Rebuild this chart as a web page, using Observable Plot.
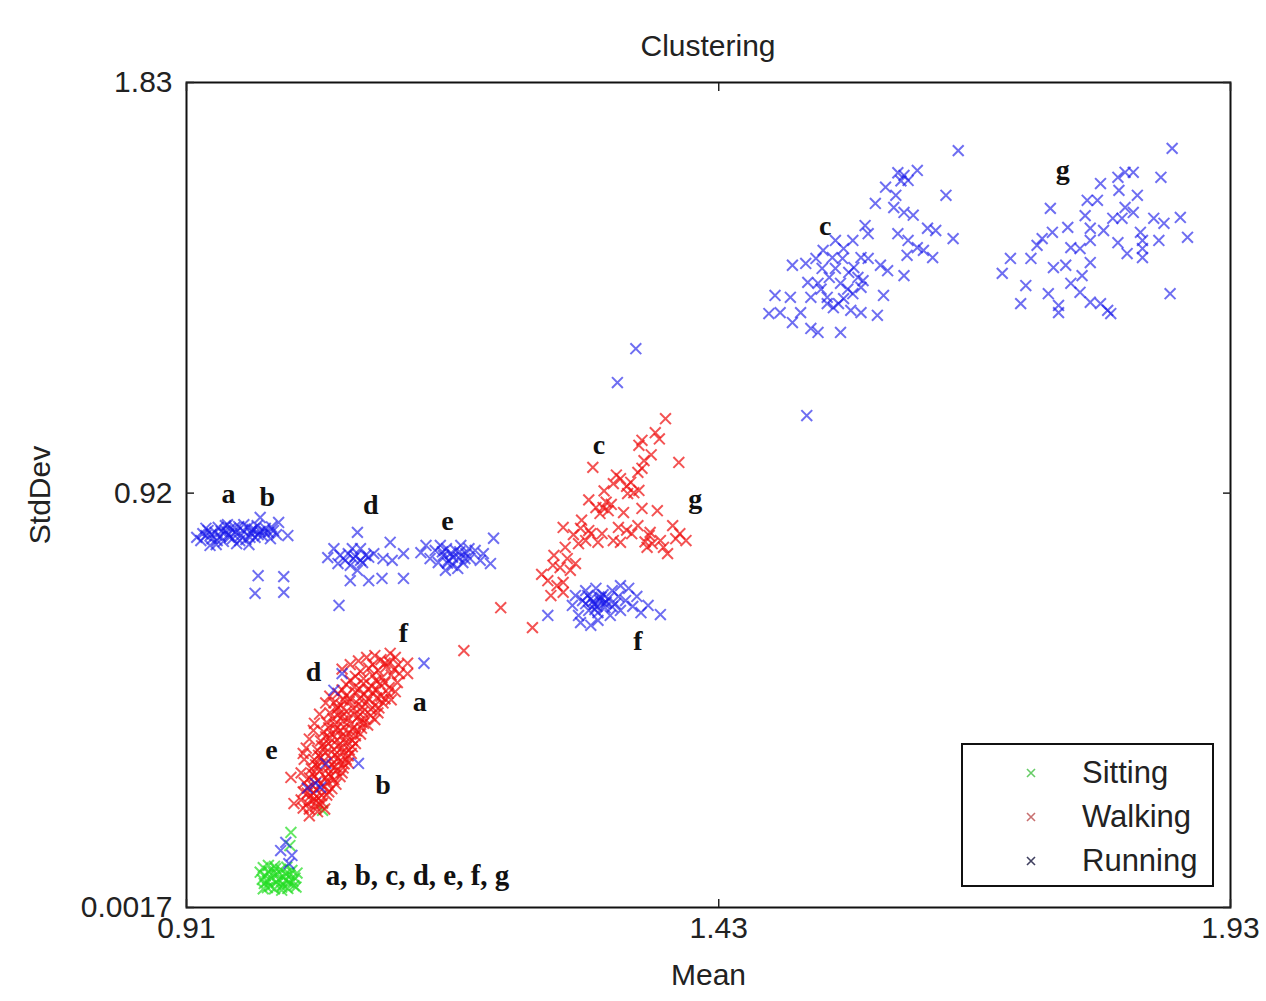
<!DOCTYPE html>
<html>
<head>
<meta charset="utf-8">
<script src="https://cdn.jsdelivr.net/npm/d3@7"></script>
<script src="https://cdn.jsdelivr.net/npm/@observablehq/plot@0.6"></script>
<style>
  html, body { margin: 0; padding: 0; background: #fff; }
  #wrap { position: relative; width: 1266px; height: 1001px; font-family: "Liberation Sans", Arial, sans-serif; }
  #title { position: absolute; left: 186px; width: 1044px; top: 29px; text-align: center; font-size: 30px; color: #222; }
  #legend { position: absolute; left: 961px; top: 743px; width: 249px; height: 140px; border: 2px solid #111; background: #fff; }
  .item { position: absolute; left: 0; height: 40px; display: flex; align-items: center; font-size: 31px; color: #222; }
  .item svg { margin-left: 61px; margin-right: 44px; }
</style>
</head>
<body>
<div id="wrap">
  <div id="chart"></div>
  <div id="title"></div>
  <div id="legend"></div>
</div>
<script>
const title = "Clustering";
const xLabel = "Mean";
const yLabel = "StdDev";
const xTicks = [0.91, 1.43, 1.93];
const xTickLabels = ["0.91", "1.43", "1.93"];
const yTicks = [0.0017, 0.92, 1.83];
const yTickLabels = ["0.0017", "0.92", "1.83"];
const classes = ["Sitting", "Walking", "Running"];
const classColors = ["#22dd22", "#ee1111", "#1515e8"];
const classOpacity = [0.7, 0.72, 0.62];
const legendColors = ["#66cc66", "#c87070", "#404060"];

// Sitting (green) points [mean, stddev]
const sitting = [
  [0.985,0.090],[0.990,0.082],[0.996,0.093],[1.002,0.086],[1.008,0.091],[1.013,0.084],
  [0.987,0.072],[0.993,0.066],[0.999,0.075],[1.005,0.069],[1.011,0.074],[1.016,0.067],
  [0.986,0.055],[0.992,0.049],[0.998,0.058],[1.004,0.052],[1.010,0.057],[1.015,0.050],
  [0.989,0.046],[0.996,0.043],[1.003,0.047],[1.009,0.044],[1.014,0.060],[0.984,0.064],
  [0.995,0.079],[1.007,0.062],[0.982,0.080],[0.989,0.060],[1.000,0.064],[1.018,0.078],
  [0.997,0.088],[1.007,0.077],[0.990,0.095],[1.003,0.040],[0.985,0.043],[1.017,0.047],
  [1.012,0.168],[1.011,0.139],[1.043,0.217]
];

// Walking (red) points
const walking = [
  [1.100,0.551],[1.108,0.546],[1.114,0.556],
  [1.088,0.532],[1.097,0.527],[1.105,0.535],[1.113,0.529],
  [1.075,0.514],[1.083,0.509],[1.092,0.516],[1.101,0.511],[1.110,0.517],
  [1.066,0.496],[1.074,0.490],[1.083,0.498],[1.091,0.492],[1.099,0.497],[1.108,0.489],
  [1.058,0.476],[1.066,0.471],[1.075,0.479],[1.083,0.473],[1.092,0.478],[1.100,0.470],[1.107,0.476],
  [1.054,0.455],[1.061,0.450],[1.069,0.458],[1.078,0.452],[1.086,0.457],[1.094,0.449],[1.102,0.455],
  [1.050,0.433],[1.058,0.428],[1.066,0.436],[1.074,0.430],[1.082,0.435],[1.090,0.427],[1.097,0.433],
  [1.047,0.412],[1.055,0.407],[1.063,0.415],[1.071,0.409],[1.079,0.414],[1.087,0.406],
  [1.044,0.391],[1.052,0.386],[1.060,0.394],[1.068,0.388],[1.076,0.393],
  [1.041,0.371],[1.049,0.365],[1.057,0.373],[1.065,0.367],[1.072,0.372],
  [1.038,0.350],[1.046,0.345],[1.054,0.352],[1.062,0.346],[1.069,0.351],
  [1.035,0.329],[1.043,0.324],[1.051,0.331],[1.059,0.325],[1.066,0.330],
  [1.032,0.309],[1.040,0.303],[1.048,0.310],[1.056,0.305],[1.063,0.311],
  [1.030,0.289],[1.038,0.283],[1.046,0.290],[1.054,0.285],[1.060,0.292],
  [1.029,0.268],[1.037,0.263],[1.045,0.270],[1.052,0.265],
  [1.031,0.249],[1.039,0.244],[1.047,0.251],
  [1.028,0.232],[1.036,0.226],[1.043,0.233],[1.038,0.214],[1.045,0.220],
  [1.062,0.530],[1.070,0.540],[1.078,0.548],[1.086,0.556],[1.094,0.560],
  [1.117,0.540],[1.118,0.520],[1.116,0.500],[1.114,0.480],[1.050,0.470],[1.046,0.455],[1.110,0.462],
  [1.062,0.484],[1.079,0.486],[1.096,0.484],[1.070,0.464],[1.088,0.465],[1.104,0.464],
  [1.057,0.442],[1.073,0.443],[1.090,0.441],[1.053,0.420],[1.068,0.421],[1.084,0.420],
  [1.049,0.400],[1.064,0.401],[1.081,0.399],[1.046,0.380],[1.061,0.381],[1.075,0.382],
  [1.042,0.360],[1.058,0.360],[1.072,0.358],[1.039,0.339],[1.055,0.340],[1.068,0.338],
  [1.036,0.318],[1.052,0.318],[1.064,0.320],[1.033,0.298],[1.049,0.298],[1.062,0.300],
  [1.025,0.278],[1.041,0.276],[1.056,0.275],[1.024,0.258],[1.034,0.255],[1.049,0.258],
  [1.022,0.240],[1.033,0.238],[1.024,0.222],[1.030,0.205],
  [1.025,0.330],[1.022,0.300],[1.027,0.355],[1.030,0.375],[1.035,0.410],[1.040,0.430],
  [1.104,0.543],[1.092,0.540],[1.080,0.525],[1.095,0.505],[1.070,0.505],[1.087,0.485],[1.104,0.500],
  [1.079,0.465],[1.063,0.462],[1.096,0.466],[1.058,0.445],[1.082,0.446],[1.098,0.444],[1.062,0.425],
  [1.078,0.425],[1.094,0.418],[1.056,0.397],[1.072,0.397],[1.083,0.410],[1.050,0.377],[1.066,0.378],
  [1.080,0.386],[1.045,0.357],[1.062,0.356],[1.075,0.365],[1.041,0.335],[1.058,0.333],[1.071,0.343],
  [1.038,0.315],[1.055,0.313],[1.068,0.322],[1.035,0.293],[1.051,0.292],[1.033,0.272],[1.048,0.280],
  [1.028,0.255],[1.042,0.250],[1.035,0.243],[1.040,0.230],[1.030,0.220],
  [1.109,0.565],[1.126,0.543],[1.126,0.520],[1.181,0.571],[1.012,0.290],[1.015,0.232],
  [1.024,0.343],[1.034,0.394],[1.217,0.666],[1.248,0.622],
  [1.378,1.085],[1.368,1.054],[1.355,1.037],[1.352,1.026],[1.391,0.988],[1.357,0.992],
  [1.307,0.977],[1.355,0.975],[1.351,0.966],[1.334,0.952],[1.327,0.941],[1.344,0.944],
  [1.347,0.921],[1.352,0.926],[1.341,0.919],[1.310,0.888],[1.317,0.888],[1.322,0.881],
  [1.314,0.875],[1.337,0.877],[1.355,0.886],[1.370,0.881],[1.278,0.844],[1.295,0.842],
  [1.303,0.837],[1.305,0.830],[1.316,0.830],[1.332,0.844],[1.351,0.848],[1.363,0.833],
  [1.385,0.848],[1.293,0.808],[1.312,0.811],[1.327,0.815],[1.334,0.811],[1.365,0.808],
  [1.373,0.815],[1.388,0.819],[1.398,0.815],[1.269,0.782],[1.282,0.775],[1.290,0.764],
  [1.380,0.786],[1.360,0.800],[1.275,0.755],[1.285,0.749],[1.263,0.726],[1.272,0.715],
  [1.278,0.722],[1.266,0.693],[1.278,0.700],[1.325,0.895],[1.340,0.838],[1.358,0.812],[1.320,0.900],
  [1.330,0.960],[1.340,0.935],[1.318,0.925],[1.303,0.905],[1.296,0.860],[1.288,0.828],
  [1.300,0.815],[1.345,0.830],[1.362,0.826],[1.376,0.800],[1.392,0.830],[1.280,0.800],
  [1.268,0.760],[1.257,0.740],[1.364,1.005],[1.372,1.040]
];

// Running (blue) points
const running = [
  // a, b
  [0.924,0.815],[0.929,0.826],[0.931,0.837],[0.935,0.819],[0.938,0.833],[0.941,0.844],
  [0.943,0.824],[0.946,0.813],[0.948,0.837],[0.951,0.828],[0.953,0.842],[0.955,0.819],
  [0.958,0.833],[0.961,0.846],[0.963,0.826],[0.965,0.837],[0.968,0.817],[0.970,0.844],
  [0.973,0.831],[0.974,0.839],[0.977,0.822],[0.979,0.848],[0.982,0.835],[0.984,0.826],
  [0.987,0.842],[0.990,0.833],[0.992,0.819],[0.995,0.837],[0.998,0.828],[1.000,0.855],
  [1.009,0.826],[0.982,0.866],[0.939,0.806],[0.959,0.808],[0.971,0.806],[0.933,0.804],
  [0.929,0.842],[0.950,0.850],
  [0.926,0.830],[0.934,0.828],[0.944,0.835],[0.952,0.822],[0.957,0.844],[0.962,0.815],
  [0.966,0.850],[0.972,0.822],[0.976,0.840],[0.980,0.828],[0.986,0.835],[0.993,0.845],
  [0.940,0.815],[0.948,0.848],[0.920,0.822],
  [0.980,0.737],[1.005,0.735],[0.977,0.698],[1.005,0.700],
  // d
  [1.077,0.833],[1.109,0.811],[1.054,0.797],[1.080,0.797],[1.122,0.786],[1.048,0.777],
  [1.073,0.775],[1.093,0.786],[1.102,0.775],[1.111,0.771],[1.058,0.764],[1.082,0.766],
  [1.070,0.726],[1.088,0.726],[1.101,0.731],[1.122,0.731],[1.059,0.671],[1.068,0.786],
  [1.075,0.780],[1.080,0.771],[1.085,0.782],[1.070,0.760],[1.077,0.749],[1.065,0.771],
  [1.060,0.782],[1.088,0.778],[1.072,0.797],
  // e
  [1.139,0.788],[1.144,0.804],[1.148,0.775],[1.153,0.793],[1.156,0.766],[1.158,0.804],
  [1.161,0.782],[1.164,0.797],[1.166,0.771],[1.168,0.786],[1.170,0.760],[1.173,0.793],
  [1.176,0.777],[1.178,0.804],[1.180,0.766],[1.183,0.786],[1.186,0.797],[1.187,0.775],
  [1.192,0.793],[1.197,0.771],[1.200,0.786],[1.207,0.764],[1.210,0.820],[1.163,0.749],[1.175,0.753],
  [1.160,0.790],[1.170,0.778],[1.177,0.790],[1.165,0.765],[1.182,0.775],
  // f
  [1.287,0.671],[1.290,0.693],[1.293,0.649],[1.297,0.682],[1.300,0.704],[1.303,0.660],
  [1.305,0.686],[1.308,0.673],[1.310,0.709],[1.312,0.655],[1.314,0.682],[1.317,0.695],
  [1.319,0.666],[1.322,0.686],[1.324,0.649],[1.326,0.704],[1.329,0.675],[1.332,0.691],
  [1.334,0.660],[1.339,0.682],[1.342,0.709],[1.346,0.669],[1.350,0.691],[1.354,0.655],
  [1.361,0.671],[1.373,0.651],[1.295,0.633],[1.312,0.638],[1.305,0.627],[1.320,0.678],
  [1.311,0.669],[1.315,0.689],[1.334,0.715],[1.263,0.649],
  [1.300,0.675],[1.307,0.680],[1.313,0.690],[1.318,0.676],[1.309,0.662],[1.326,0.668],[1.302,0.693],
  [1.349,1.240],[1.331,1.165],[1.516,1.092],
  // c
  [1.664,1.679],[1.605,1.630],[1.611,1.624],[1.615,1.613],[1.624,1.635],[1.593,1.598],
  [1.603,1.580],[1.652,1.580],[1.583,1.562],[1.601,1.553],[1.611,1.542],[1.620,1.536],
  [1.573,1.513],[1.576,1.495],[1.605,1.495],[1.634,1.507],[1.642,1.502],[1.659,1.484],
  [1.615,1.480],[1.624,1.464],[1.630,1.458],[1.639,1.442],[1.614,1.447],[1.544,1.480],
  [1.561,1.480],[1.532,1.458],[1.552,1.462],[1.525,1.440],[1.541,1.442],[1.551,1.440],
  [1.569,1.442],[1.576,1.440],[1.588,1.425],[1.502,1.425],[1.515,1.429],[1.531,1.418],
  [1.544,1.418],[1.557,1.409],[1.566,1.398],[1.571,1.391],[1.595,1.413],[1.611,1.402],
  [1.517,1.387],[1.527,1.385],[1.549,1.385],[1.569,1.376],[1.561,1.362],[1.485,1.358],
  [1.500,1.354],[1.520,1.354],[1.536,1.354],[1.552,1.351],[1.591,1.358],[1.479,1.318],
  [1.490,1.320],[1.510,1.320],[1.536,1.340],[1.542,1.331],[1.559,1.325],[1.569,1.320],
  [1.585,1.314],[1.502,1.298],[1.520,1.285],[1.527,1.276],[1.549,1.276],
  [1.538,1.398],[1.556,1.372],[1.547,1.340],[1.530,1.372],[1.562,1.420],[1.608,1.612],
  // g
  [1.873,1.684],[1.820,1.620],[1.827,1.631],[1.835,1.631],[1.862,1.620],[1.803,1.606],
  [1.821,1.591],[1.839,1.580],[1.790,1.569],[1.800,1.569],[1.754,1.551],[1.827,1.553],
  [1.835,1.542],[1.788,1.535],[1.815,1.529],[1.824,1.529],[1.855,1.529],[1.865,1.518],
  [1.881,1.531],[1.771,1.509],[1.793,1.507],[1.806,1.502],[1.842,1.498],[1.888,1.487],
  [1.756,1.498],[1.746,1.484],[1.741,1.469],[1.774,1.464],[1.783,1.462],[1.793,1.480],
  [1.820,1.475],[1.844,1.480],[1.860,1.480],[1.715,1.440],[1.735,1.440],[1.757,1.420],
  [1.769,1.425],[1.793,1.431],[1.829,1.451],[1.844,1.442],[1.844,1.462],[1.707,1.407],
  [1.730,1.380],[1.774,1.385],[1.785,1.402],[1.752,1.362],[1.783,1.365],[1.871,1.362],
  [1.725,1.340],[1.762,1.336],[1.793,1.343],[1.803,1.340],[1.810,1.325],[1.762,1.320],[1.813,1.318],
  // mixed into lower clusters
  [1.062,0.520],[1.054,0.483],[1.078,0.321],[1.046,0.321],[1.036,0.277],[1.028,0.266],
  [1.041,0.268],[1.142,0.543],
  [1.007,0.146],[1.002,0.128],[1.013,0.117],[1.010,0.099]
];

// cluster annotation letters
const annotText = ["a","b","d","e","c","g","f","c","g","f","d","a","e","b","a, b, c, d, e, f, g"];
const annotX = [0.951,0.989,1.090,1.165,1.313,1.407,1.351,1.534,1.766,1.122,1.034,1.138,0.993,1.102,1.046];
const annotY = [0.919,0.912,0.893,0.859,1.026,0.908,0.593,1.511,1.635,0.609,0.523,0.456,0.350,0.272,0.073];
const annotAnchor = ["middle","middle","middle","middle","middle","middle","middle","middle","middle","middle","middle","middle","middle","middle","start"];

const points = [
  ...sitting.map(([x, y]) => ({x, y, cls: "Sitting"})),
  ...walking.map(([x, y]) => ({x, y, cls: "Walking"})),
  ...running.map(([x, y]) => ({x, y, cls: "Running"}))
];
const annots = annotText.map((t, i) => ({t, x: annotX[i], y: annotY[i], a: annotAnchor[i]}));

const fmtX = d => xTickLabels[xTicks.indexOf(d)];
const fmtY = d => yTickLabels[yTicks.indexOf(d)];
const serif = "Liberation Serif, Times New Roman, serif";

const chart = Plot.plot({
  width: 1266,
  height: 1001,
  marginLeft: 186,
  marginRight: 36,
  marginTop: 82,
  marginBottom: 94,
  style: {fontFamily: "Liberation Sans, Arial, sans-serif", background: "#fff", color: "#222"},
  x: {domain: [0.91, 1.93]},
  y: {domain: [0.0017, 1.83]},
  color: {domain: classes, range: classColors},
  marks: [
    Plot.dot(points, {x: "x", y: "y", stroke: "cls", symbol: "times", r: 5, strokeWidth: 2,
      strokeOpacity: d => classOpacity[classes.indexOf(d.cls)]}),
    Plot.text(annots.filter(d => d.a === "middle"), {x: "x", y: "y", text: "t", fontFamily: serif, fontSize: 28, fontWeight: "bold", fill: "#111"}),
    Plot.text(annots.filter(d => d.a === "start"), {x: "x", y: "y", text: "t", textAnchor: "start", fontFamily: serif, fontSize: 29, fontWeight: "bold", fill: "#111"}),
    Plot.frame({stroke: "#111", strokeWidth: 2}),
    // inward ticks
    Plot.axisX(xTicks, {anchor: "bottom", tickSize: 8, dy: -8, tickFormat: () => "", label: null, strokeWidth: 1.5}),
    Plot.axisX(xTicks, {anchor: "top", tickSize: 8, dy: 8, tickFormat: () => "", label: null, strokeWidth: 1.5}),
    Plot.axisY(yTicks, {anchor: "left", tickSize: 8, dx: 8, tickFormat: () => "", label: null, strokeWidth: 1.5}),
    Plot.axisY(yTicks, {anchor: "right", tickSize: 8, dx: -8, tickFormat: () => "", label: null, strokeWidth: 1.5}),
    // tick labels + axis titles
    Plot.axisX(xTicks, {anchor: "bottom", tickSize: 0, tickPadding: 9, tickFormat: fmtX, fontSize: 30, label: xLabel, labelAnchor: "center", labelArrow: "none", labelOffset: 77}),
    Plot.axisY(yTicks, {anchor: "left", tickSize: 0, tickPadding: 14, tickFormat: fmtY, fontSize: 30, label: yLabel, labelAnchor: "center", labelArrow: "none", labelOffset: 158})
  ]
});
document.getElementById("chart").appendChild(chart);
document.getElementById("title").textContent = title;

const legend = document.getElementById("legend");
classes.forEach((c, i) => {
  const item = document.createElement("div");
  item.className = "item";
  item.style.top = (8 + i * 44) + "px";
  item.innerHTML = `<svg width="14" height="14" viewBox="-7 -7 14 14"><path d="M-4,-4L4,4M-4,4L4,-4" stroke="${legendColors[i]}" stroke-width="1.6"/></svg><span>${c}</span>`;
  legend.appendChild(item);
});
</script>
</body>
</html>
